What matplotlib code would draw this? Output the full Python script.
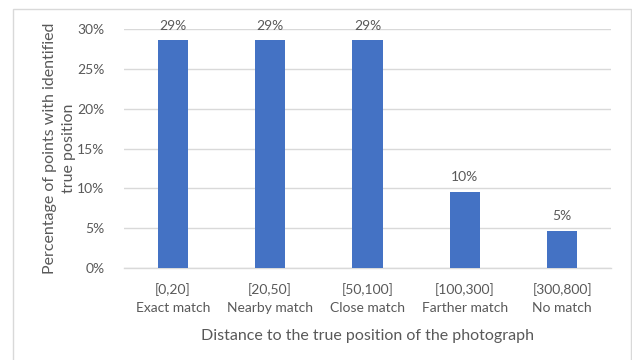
import matplotlib
matplotlib.use("Agg")
import matplotlib.pyplot as plt
from matplotlib.patches import Rectangle
from matplotlib.ticker import FuncFormatter, MultipleLocator

# Distance bins (metres) and their match descriptions
ranges = ["[0,20]", "[20,50]", "[50,100]", "[100,300]", "[300,800]"]
match_names = ["Exact match", "Nearby match", "Close match", "Farther match", "No match"]
share_pct = [28.6, 28.6, 28.6, 9.6, 4.7]

tick_labels = [f"{r}\n{m}" for r, m in zip(ranges, match_names)]

TEXT = "#595959"
GRID = "#D9D9D9"
BAR = "#4472C4"

plt.rcParams["font.family"] = ["Lato", "DejaVu Sans"]

W, H = 632, 360
fig = plt.figure(figsize=(W / 100, H / 100), dpi=100)
fig.patch.set_facecolor("white")

# chart frame
fig.patches.append(Rectangle((13 / W, 1 - 370 / H), (631 - 13) / W, (370 - 9) / H,
                             transform=fig.transFigure, fill=False,
                             edgecolor=GRID, linewidth=1.0))

left, right = 124 / W, 611 / W
bottom, top = 1 - 268 / H, 1 - 29 / H
ax = fig.add_axes([left, bottom, right - left, top - bottom])

x = range(len(share_pct))
bars = ax.bar(x, share_pct, width=0.31, color=BAR, zorder=3)

for rect, v in zip(bars, share_pct):
    ax.annotate(f"{v:.0f}%", (rect.get_x() + rect.get_width() / 2, v),
                xytext=(0, 6), textcoords="offset points",
                ha="center", va="bottom", fontsize=10, color=TEXT)

ax.set_xlim(-0.5, len(share_pct) - 0.5)
ax.set_ylim(0, 30)
ax.yaxis.set_major_locator(MultipleLocator(5))
ax.yaxis.set_major_formatter(FuncFormatter(lambda v, _: f"{v:.0f}%"))
ax.grid(axis="y", color=GRID, linewidth=1.0, zorder=0)

ax.set_xticks(list(x))
ax.set_xticklabels(tick_labels, fontsize=10, color=TEXT, linespacing=1.6)
ax.tick_params(axis="y", labelsize=10, labelcolor=TEXT, length=0, pad=14)
ax.tick_params(axis="x", length=0, pad=11)

for s in ["top", "right", "left"]:
    ax.spines[s].set_visible(False)
ax.spines["bottom"].set_color(GRID)
ax.spines["bottom"].set_linewidth(1.0)

ax.set_xlabel("Distance to the true position of the photograph",
              fontsize=11.5, color=TEXT, labelpad=11)
ax.set_ylabel("Percentage of points with identified\ntrue position",
              fontsize=11.5, color=TEXT, labelpad=1, linespacing=1.45)

fig.savefig("out.png", dpi=100, facecolor="white")
